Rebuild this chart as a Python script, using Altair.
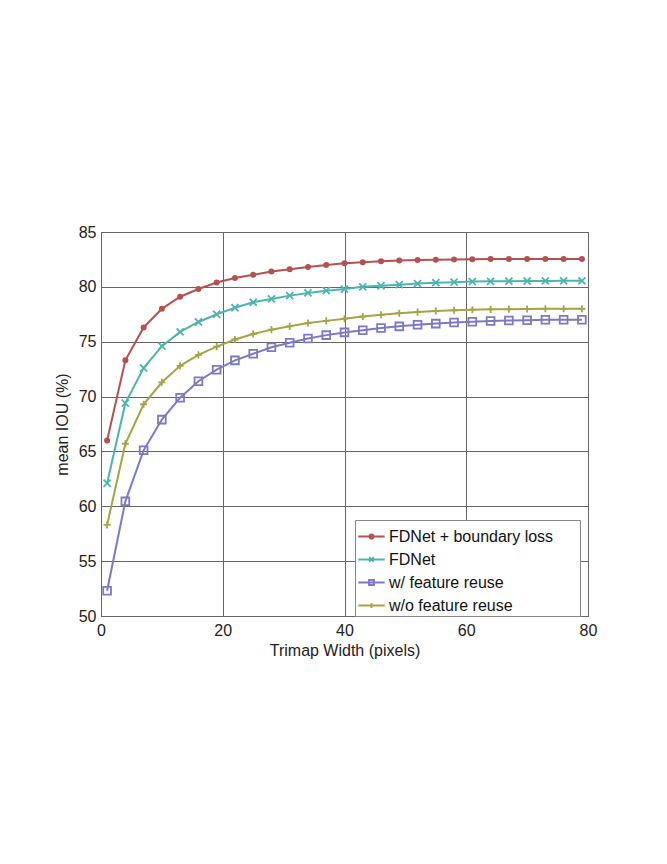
import altair as alt
import pandas as pd

# ---- data ----
x_vals = list(range(1, 80, 3))
series_names = ["FDNet + boundary loss", "FDNet", "w/ feature reuse", "w/o feature reuse"]
boundary = [66.0, 73.3, 76.3, 78.0, 79.1, 79.8, 80.4, 80.8, 81.1, 81.4, 81.6, 81.8, 82.0, 82.15,
            82.25, 82.33, 82.4, 82.45, 82.47, 82.5, 82.52, 82.53, 82.54, 82.54, 82.55, 82.55, 82.55]
fdnet = [62.1, 69.4, 72.6, 74.6, 75.9, 76.8, 77.5, 78.1, 78.6, 78.9, 79.2, 79.45, 79.65, 79.8,
         80.0, 80.1, 80.2, 80.3, 80.38, 80.43, 80.48, 80.5, 80.52, 80.53, 80.54, 80.55, 80.55]
with_reuse = [52.3, 60.45, 65.1, 67.9, 69.9, 71.4, 72.45, 73.3, 73.9, 74.5, 74.9, 75.3, 75.6, 75.85,
              76.05, 76.25, 76.4, 76.55, 76.65, 76.75, 76.82, 76.88, 76.93, 76.96, 77.0, 77.0, 77.0]
without_reuse = [58.3, 65.7, 69.3, 71.3, 72.8, 73.8, 74.55, 75.2, 75.7, 76.1, 76.4, 76.7, 76.9, 77.1,
                 77.3, 77.45, 77.6, 77.7, 77.8, 77.87, 77.92, 77.95, 77.97, 77.98, 78.0, 78.0, 78.0]
x_ticks = [0, 20, 40, 60, 80]
y_ticks = [50, 55, 60, 65, 70, 75, 80, 85]

colors = ["#b5514f", "#4db5b0", "#7c79c6", "#a7a443"]
marker_shapes = ["circle", "M-1,-1L1,1M1,-1L-1,1", "square", "M-1,0L1,0M0,-1L0,1"]
marker_sizes = [36, 50, 60, 50]
marker_filled = [True, False, False, False]
legend_paths = [
    "M-1,0L1,0M-0.16,0A0.16,0.16 0 1,0 0.16,0A0.16,0.16 0 1,0 -0.16,0Z",
    "M-1,0L1,0M-0.17,-0.17L0.17,0.17M0.17,-0.17L-0.17,0.17",
    "M-1,0L1,0M-0.19,-0.19L0.19,-0.19L0.19,0.19L-0.19,0.19Z",
    "M-1,0L1,0M0,-0.19L0,0.19",
]

rows = []
for name, vals in zip(series_names, [boundary, fdnet, with_reuse, without_reuse]):
    for xv, yv in zip(x_vals, vals):
        rows.append({"series": name, "x": xv, "y": yv})
df = pd.DataFrame(rows)

FONT = "Liberation Sans"

xenc = alt.X("x:Q", scale=alt.Scale(domain=[0, 80], nice=False),
             axis=alt.Axis(values=x_ticks, title="Trimap Width (pixels)", labelPadding=6,
                           titlePadding=4, labelFlush=False))
yenc = alt.Y("y:Q", scale=alt.Scale(domain=[50, 85], nice=False, zero=False),
             axis=alt.Axis(values=y_ticks, title="mean IOU (%)", labelPadding=5, titlePadding=8,
                           labelFlush=False))

layers = []
for i, name in enumerate(series_names):
    sub = alt.Chart(df).transform_filter(alt.datum.series == name)
    layers.append(sub.mark_line(color=colors[i], strokeWidth=2).encode(x=xenc, y=yenc))
    if marker_filled[i]:
        pts = sub.mark_point(shape=marker_shapes[i], filled=True, fill=colors[i],
                             size=marker_sizes[i], opacity=1, strokeWidth=0)
    else:
        pts = sub.mark_point(shape=marker_shapes[i], filled=False, color=colors[i],
                             size=marker_sizes[i], opacity=1, strokeWidth=1.8)
    layers.append(pts.encode(x=xenc, y=yenc))

pad = "\u2800" * 2
label_expr = "datum.label == 'FDNet + boundary loss' ? datum.label + '" + pad + "' : datum.label"
legend_layer = alt.Chart(df).mark_point(filled=False, opacity=0, strokeWidth=1.8, size=700).encode(
    x=xenc, y=yenc,
    color=alt.Color("series:N", scale=alt.Scale(domain=series_names, range=colors),
                    legend=alt.Legend(title=None, orient="none", legendX=254, legendY=288,
                                      symbolOpacity=1, labelExpr=label_expr)),
    shape=alt.Shape("series:N", scale=alt.Scale(domain=series_names, range=legend_paths),
                    legend=alt.Legend(title=None, orient="none", legendX=254, legendY=288,
                                      symbolOpacity=1, labelExpr=label_expr)),
)
layers.append(legend_layer)

chart = alt.layer(*layers).properties(
    width=487, height=384,
    padding={"left": 93, "top": 224, "right": 60, "bottom": 200},
    autosize=alt.AutoSizeParams(type="none"),
    background="white",
).configure_view(
    stroke="#444", strokeWidth=1,
).configure_axis(
    grid=True, gridColor="#666", gridWidth=1, gridOpacity=1,
    domain=False, ticks=False,
    labelFont=FONT, labelFontSize=16, labelColor="#222",
    titleFont=FONT, titleFontSize=16, titleColor="#222", titleFontWeight="normal",
).configure_legend(
    labelFont=FONT, labelFontSize=16, labelColor="#111", labelLimit=400,
    symbolSize=700, symbolStrokeWidth=1.8, rowPadding=0, symbolOffset=0,
    fillColor="white", strokeColor="#888", padding=2, cornerRadius=0, labelOffset=3,
)

chart.save("out.html", embed_options={"renderer": "svg", "actions": False})
